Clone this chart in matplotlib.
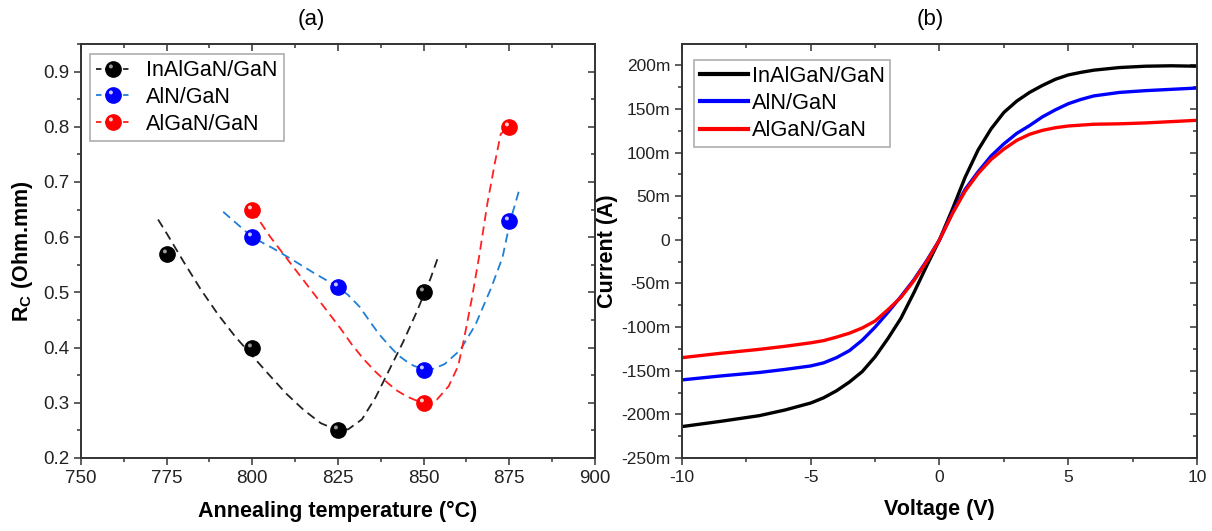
import numpy as np
import matplotlib
matplotlib.use('Agg')
import matplotlib.pyplot as plt
from matplotlib.lines import Line2D
from matplotlib.path import Path
from matplotlib.ticker import MultipleLocator, FuncFormatter

plt.rcParams['font.family'] = ['Liberation Sans', 'DejaVu Sans']
plt.rcParams['mathtext.fontset'] = 'custom'
plt.rcParams['mathtext.rm'] = 'Liberation Sans'
plt.rcParams['mathtext.bf'] = 'Liberation Sans:bold'
plt.rcParams['axes.unicode_minus'] = False

# ---- (a) contact resistance vs annealing temperature ----
names = ['InAlGaN/GaN', 'AlN/GaN', 'AlGaN/GaN']
t_inalgan = [775, 800, 825, 850]
rc_inalgan = [0.57, 0.40, 0.25, 0.50]
t_aln = [800, 825, 850, 875]
rc_aln = [0.60, 0.51, 0.36, 0.63]
t_algan = [800, 850, 875]
rc_algan = [0.65, 0.30, 0.80]

# dashed guide curves
fit_t_inalgan = [772.5, 775, 780, 785, 790, 795, 800, 805, 810, 815, 820, 825, 828,
                 832, 836, 840, 844, 848, 850, 852, 854]
fit_rc_inalgan = [0.632, 0.607, 0.555, 0.505, 0.46, 0.42, 0.385, 0.35, 0.316, 0.287,
                  0.263, 0.25, 0.252, 0.27, 0.31, 0.36, 0.41, 0.465, 0.495, 0.525, 0.56]
fit_t_aln = [791.5, 800, 806, 812, 818, 825, 828, 831.3, 834, 836.9, 840, 842.6, 845,
             847.1, 850.5, 853, 856.1, 860.6, 865.1, 869.7, 873, 875.3, 878.1]
fit_rc_aln = [0.646, 0.60, 0.58, 0.558, 0.535, 0.51, 0.495, 0.474, 0.45, 0.425, 0.403,
              0.386, 0.375, 0.367, 0.36, 0.362, 0.37, 0.395, 0.441, 0.508, 0.563, 0.63, 0.69]
fit_t_algan = [800, 805.3, 812.1, 818.9, 825.7, 829, 832.5, 836, 839.3, 842, 844.9, 847.5,
               850.1, 853.9, 857.3, 860.1, 861.8, 864.1, 866.3, 868.6, 870.8, 872.5, 875.1]
fit_rc_algan = [0.649, 0.60, 0.545, 0.49, 0.435, 0.406, 0.379, 0.356, 0.337, 0.323, 0.312,
                0.305, 0.301, 0.306, 0.33, 0.367, 0.416, 0.49, 0.569, 0.661, 0.735, 0.787,
                0.801]

# ---- (b) I-V curves (current in mA) ----
volt = [-10, -8.5, -7, -6, -5, -4.5, -4, -3.5, -3, -2.5, -2, -1.5, -1, -0.5, 0,
        0.5, 1, 1.5, 2, 2.5, 3, 3.5, 4, 4.5, 5, 5.5, 6, 7, 8, 9, 10]
cur_inalgan = [-214, -208, -201.5, -195, -187, -181, -173, -163, -151, -134, -113, -90,
               -61, -30, 0, 35, 72, 103, 127, 146, 159, 169, 177, 184, 189, 192, 194.5,
               197.5, 199, 199.5, 199]
cur_aln = [-160.5, -156, -152, -148.5, -144.5, -141, -135, -127, -115, -100, -83, -65,
           -46, -24, 0, 31, 58, 78, 96, 110, 122, 131, 141, 149, 156, 161, 165, 169,
           171, 172.5, 174]
cur_algan = [-135, -130, -125.5, -122, -118, -115.5, -111.5, -107, -101, -93, -80, -66,
             -47, -25, 0, 30, 56, 76, 92, 104, 114, 121, 125.5, 128.5, 130.5, 131.5,
             132.5, 133, 134, 135.5, 137]

fig = plt.figure(figsize=(12.12, 5.31), dpi=100)
ax1 = fig.add_axes([0.0668, 0.1375, 0.4241, 0.7797])
ax2 = fig.add_axes([0.5627, 0.1375, 0.4249, 0.7797])

spine_col = '#333333'


def style_axes(ax, xmaj, xmin, ymaj, ymin):
    for s in ax.spines.values():
        s.set_color(spine_col)
        s.set_linewidth(1.4)
    ax.xaxis.set_major_locator(MultipleLocator(xmaj))
    ax.xaxis.set_minor_locator(MultipleLocator(xmin))
    ax.yaxis.set_major_locator(MultipleLocator(ymaj))
    ax.yaxis.set_minor_locator(MultipleLocator(ymin))
    ax.tick_params(which='both', direction='out', top=False, right=False,
                   color=spine_col, width=1.1, labelcolor='#222222')
    ax.tick_params(which='major', length=5)
    ax.tick_params(which='minor', length=3)
    # mirrored ticks pointing inward, no labels
    sx = ax.secondary_xaxis('top')
    sy = ax.secondary_yaxis('right')
    sx.xaxis.set_major_locator(MultipleLocator(xmaj))
    sx.xaxis.set_minor_locator(MultipleLocator(xmin))
    sy.yaxis.set_major_locator(MultipleLocator(ymaj))
    sy.yaxis.set_minor_locator(MultipleLocator(ymin))
    sx.tick_params(which='both', direction='in', color=spine_col, width=1.1,
                   labeltop=False, labelbottom=False)
    sy.tick_params(which='both', direction='in', color=spine_col, width=1.1,
                   labelright=False, labelleft=False)
    for sec in (sx, sy):
        sec.tick_params(which='major', length=5)
        sec.tick_params(which='minor', length=3)
        for s in sec.spines.values():
            s.set_visible(False)


style_axes(ax1, 25, 12.5, 0.1, 0.05)
style_axes(ax2, 5, 2.5, 0.05, 0.025)

# sphere highlight marker (first vertex only fixes the scale)
circ = Path.circle(center=(-0.17, 0.2), radius=0.13)
hl_path = Path(np.vstack([[[0.5, 0.5]], circ.vertices]),
               np.concatenate([[Path.MOVETO], circ.codes]))

cols = ['black', '#0000ff', '#ff0000']
fit_cols = ['#222222', '#1f7fd6', '#ff2020']
hl_cols = ['#9a9a9a', '#c8c8ff', '#ffd0d0']
pts = [(t_inalgan, rc_inalgan), (t_aln, rc_aln), (t_algan, rc_algan)]
fits = [(fit_t_inalgan, fit_rc_inalgan), (fit_t_aln, fit_rc_aln), (fit_t_algan, fit_rc_algan)]
handles = []
for i in range(3):
    ax1.plot(fits[i][0], fits[i][1], ls=(0, (5, 3)), color=fit_cols[i], lw=1.3, zorder=2)
    ax1.plot(pts[i][0], pts[i][1], ls='none', marker='o', ms=11, color=cols[i],
             mec=cols[i], zorder=3)
    ax1.plot(pts[i][0], pts[i][1], ls='none', marker=hl_path, ms=11, color=hl_cols[i],
             mec='none', zorder=4)
    h1 = Line2D([], [], ls=(0, (3, 2)), color=fit_cols[i], lw=1.3, marker='o', ms=11,
                mfc=cols[i], mec=cols[i])
    h2 = Line2D([], [], ls='none', marker=hl_path, ms=11, color=hl_cols[i], mec='none')
    handles.append((h1, h2))

ax1.set_xlim(750, 900)
ax1.set_ylim(0.2, 0.95)
ax1.yaxis.set_major_formatter(FuncFormatter(lambda v, p: f'{v:.1f}'))
ax1.tick_params(labelsize=13.5)
ax1.set_xlabel('Annealing temperature (°C)', fontsize=15.5, fontweight='bold', labelpad=10)
ax1.set_ylabel(r'R$_\mathbf{C}$ (Ohm.mm)', fontsize=15.5, fontweight='bold', labelpad=6)
leg1 = ax1.legend(handles, names, loc='upper left', bbox_to_anchor=(0.017, 0.976),
                  fontsize=15.5, frameon=True, fancybox=False, handlelength=1.6,
                  handletextpad=0.7, borderpad=0.3, labelspacing=0.26,
                  borderaxespad=0)
leg1.get_frame().set_edgecolor('#999999')
leg1.get_frame().set_linewidth(1.2)

# (b)
iv = [cur_inalgan, cur_aln, cur_algan]
for i in range(3):
    ax2.plot(volt, np.array(iv[i]) / 1000.0, color=cols[i], lw=2.4, label=names[i])
ax2.set_xlim(-10, 10)
ax2.set_ylim(-0.25, 0.2245)
ax2.yaxis.set_major_formatter(
    FuncFormatter(lambda v, p: '0' if abs(v) < 1e-9 else f'{int(round(v * 1000))}m'))
ax2.tick_params(labelsize=12.5)
ax2.set_xlabel('Voltage (V)', fontsize=15.5, fontweight='bold', labelpad=10)
ax2.set_ylabel('Current (A)', fontsize=15.5, fontweight='bold', labelpad=2)
leg2 = ax2.legend(loc='upper left', bbox_to_anchor=(0.024, 0.961), fontsize=15.7,
                  frameon=True, fancybox=False, handlelength=2.2, handletextpad=0.2,
                  borderpad=0.25, labelspacing=0.29, borderaxespad=0)
leg2.get_frame().set_edgecolor('#999999')
leg2.get_frame().set_linewidth(1.2)
for ln in leg2.get_lines():
    ln.set_linewidth(3)

fig.text(311 / 1212, 1 - 19 / 531, '(a)', ha='center', va='center', fontsize=16)
fig.text(930 / 1212, 1 - 19 / 531, '(b)', ha='center', va='center', fontsize=16)

fig.savefig('out.png', dpi=100)
